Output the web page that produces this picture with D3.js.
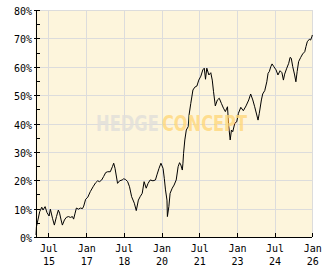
<!DOCTYPE html>
<html><head><meta charset="utf-8">
<script src="https://cdn.jsdelivr.net/npm/d3@7"></script>
<style>html,body{margin:0;padding:0;background:#fff;} svg{display:block;}</style>
</head><body><svg id="c" width="332" height="269"></svg>
<script>
// months elapsed since Jan 2015 (fractional) for each observation
const monthOffset = [0,0.2,0.9,1.8,2.8,3.4,4.4,5.3,6.3,6.9,
7.9,8.8,9.8,10.7,11.3,12.0,12.6,13.6,14.5,15.5,
16.5,17.4,18.0,18.7,19.3,20.3,21.2,22.2,22.8,23.7,
24.7,26.0,27.3,28.5,29.5,30.4,31.4,32.3,33.3,34.2,
35.5,36.5,37.1,37.8,39.0,40.0,41.2,41.9,42.8,43.8,
44.7,45.7,47.0,47.9,48.9,49.8,50.8,51.7,52.7,53.6,
54.6,55.9,57.1,57.8,58.8,59.7,60.7,61.3,61.9,62.6,
62.8,63.5,64.1,65.1,66.0,67.0,67.9,68.6,69.2,69.9,
70.2,70.5,71.1,71.8,72.7,73.1,74.0,75.0,75.9,76.9,
77.8,78.8,79.7,80.4,81.0,81.6,82.6,83.5,84.2,84.8,
85.7,86.7,87.6,88.6,89.6,90.5,91.5,92.1,92.8,93.4,
94.0,95.0,95.9,96.7,97.9,99.1,100.4,101.7,102.6,103.6,
104.5,105.5,106.1,106.7,107.7,108.3,109.3,110.3,110.9,111.5,
112.2,112.8,113.7,114.7,115.6,116.6,117.5,118.2,118.8,119.8,
120.7,121.4,122.0,122.7,123.6,124.2,124.8,125.5,126.5,127.4,
128.4,129.0,129.6,130.6,131.2,131.9,132.0];
// cumulative performance in %
const returnsPct = [0.7,3.6,6.0,8.9,10.5,9.5,10.7,8.6,7.4,9.8,
6.6,4.2,7.2,9.5,8.4,6.0,4.2,6.0,6.9,7.2,
6.9,7.2,6.3,8.4,10.2,9.8,10.2,10.0,10.9,13.3,
14.0,16.0,17.7,19.1,19.8,19.5,20.1,21.3,22.7,23.0,
23.0,24.8,26.0,24.2,18.9,19.8,20.1,20.5,20.3,19.5,
17.7,14.2,11.9,9.3,13.0,14.2,15.4,19.5,17.2,18.9,
20.1,19.8,20.1,21.9,24.2,26.0,24.2,20.7,16.6,13.0,
7.2,10.7,15.4,17.2,18.3,20.1,24.8,26.2,25.4,23.6,
26.0,29.5,34.2,37.7,38.9,43.0,47.1,51.8,52.8,53.2,
55.3,56.7,58.9,59.5,55.6,59.5,57.1,57.9,55.3,51.2,
46.2,48.3,48.9,47.1,45.4,44.2,45.9,38.9,34.2,37.7,
37.1,40.1,40.6,43.6,45.7,44.5,46.2,48.3,50.4,48.3,
45.9,43.0,41.2,43.6,48.3,50.4,51.6,54.7,57.7,58.3,
60.0,61.0,60.0,58.9,57.1,58.6,57.9,55.3,57.4,59.5,
61.2,63.3,63.0,60.0,57.1,54.7,58.3,61.8,63.3,64.5,
65.3,67.1,68.8,69.7,69.4,70.8,71.2];
const yMajorTicks = [0,10,20,30,40,50,60,70,80];
const yAllTicks = [0,5,10,15,20,25,30,35,40,45,50,55,60,65,70,75,80];
const xTickDates = ["2015-07-01","2017-01-01","2018-07-01","2020-01-01","2021-07-01","2023-01-01","2024-07-01","2026-01-01"];
const xTickMonth = ["Jul","Jan","Jul","Jan","Jul","Jan","Jul","Jan"];
const xTickYear = ["15","17","18","20","21","23","24","26"];

const start = new Date(2015,0,1);
function toDate(m){
  const w = Math.floor(m);
  const a = d3.timeMonth.offset(start, w), b = d3.timeMonth.offset(start, w+1);
  return new Date(+a + (m-w)*(b-a));
}
const parse = d3.timeParse("%Y-%m-%d");
const tickDates = xTickDates.map(parse);
const data = monthOffset.map((m,i)=>({date:toDate(m), v:returnsPct[i]}));

const L=35.5, R=312.3, T=10, B=237;
const svg = d3.select("#c");
const x = d3.scaleTime().domain([start, new Date(2026,0,1)]).range([L+0.5, R]);
const y = d3.scaleLinear().domain([0,80]).range([B, T]);
const font = "DejaVu Sans Mono, monospace";

// plot background
svg.append("rect").attr("x",L).attr("y",T).attr("width",R-L).attr("height",B-T).attr("fill","#fdf5dc");

// gridlines
const gy = svg.append("g").attr("transform",`translate(${L},0)`)
  .call(d3.axisLeft(y).tickValues(yMajorTicks).tickSize(-(R-L)).tickFormat(""));
gy.select(".domain").remove();
gy.selectAll("line").attr("stroke","#dcdcdc").attr("shape-rendering","crispEdges");
const gx = svg.append("g").attr("transform",`translate(0,${T})`)
  .call(d3.axisBottom(x).tickValues(tickDates).tickSize(B-T).tickFormat(""));
gx.select(".domain").remove();
gx.selectAll("line").attr("stroke","#dcdcdc").attr("shape-rendering","crispEdges");

// line
svg.append("path").datum(data)
  .attr("d", d3.line().x(d=>x(d.date)).y(d=>y(d.v)))
  .attr("fill","none").attr("stroke","#000").attr("stroke-width",1);

// watermark (horizontally condensed via transform)
function mark(txt, x0, w, col, op){
  const t = svg.append("text").attr("x",0).attr("y",0)
    .attr("font-family","DejaVu Sans, sans-serif").attr("font-weight","bold").attr("font-size",21.5)
    .attr("fill",col).attr("fill-opacity",op).text(txt);
  const nat = t.node().getComputedTextLength();
  t.attr("transform",`translate(${x0},131) scale(${w/nat},1)`);
}
mark("HEDGE", 96, 63, "#e2e0da", 0.85);
mark("CONCEPT", 162, 85, "#ffd77a", 0.8);

// left axis: outer major ticks with labels
const ay = svg.append("g").attr("transform",`translate(${L},0)`)
  .call(d3.axisLeft(y).tickValues(yMajorTicks).tickSizeInner(2).tickSizeOuter(0).tickPadding(1.5).tickFormat(d=>d+"%"));
ay.selectAll("text").attr("font-family",font).attr("font-size",10).attr("fill","#000").attr("dy","0.45em");
ay.selectAll("line,path").attr("stroke","#000").attr("shape-rendering","crispEdges");
// inner ticks every 5%
const ay2 = svg.append("g").attr("transform",`translate(${L},0)`)
  .call(d3.axisLeft(y).tickValues(yAllTicks).tickSize(-4).tickFormat(""));
ay2.selectAll("line,path").attr("stroke","#000").attr("shape-rendering","crispEdges");

// bottom axis
const ax = svg.append("g").attr("transform",`translate(0,${B})`)
  .call(d3.axisBottom(x).tickValues(tickDates).tickSizeInner(-4).tickSizeOuter(0).tickFormat(""));
ax.selectAll("line,path").attr("stroke","#000").attr("shape-rendering","crispEdges");
ax.select(".domain").attr("d",`M${L},0.5H${R}`);
ax.selectAll(".tick").each(function(d,i){
  const t = d3.select(this).append("text").attr("font-family",font).attr("font-size",10)
    .attr("fill","#000").attr("text-anchor","middle");
  t.append("tspan").attr("x",0).attr("y",15).text(xTickMonth[i]);
  t.append("tspan").attr("x",0).attr("y",27.5).text(xTickYear[i]);
});
</script></body></html>
